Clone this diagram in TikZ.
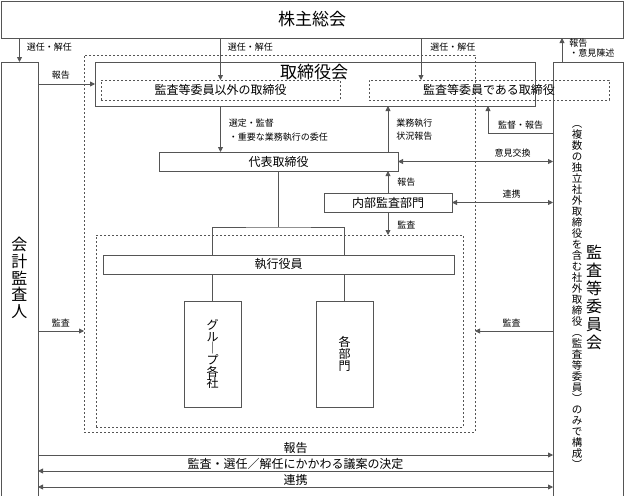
\documentclass[tikz,border=0pt]{standalone}
\usepackage{fontspec}
\setmainfont{Noto Sans CJK JP}
\usepackage{tikz}
\usetikzlibrary{arrows.meta}
\definecolor{linegray}{HTML}{555555}

\makeatletter
% vertical text, one character per line
\newcommand\tate[2]{\vbox{\baselineskip=#1\lineskiplimit=-\maxdimen
  \@tfor\tate@c:=#2\do{\hbox to 1em{\hss\tate@c\hss}}}}
\makeatother

\tikzset {
  % solid boxes
  box/.style = {draw=linegray, line width=0.8pt, inner sep=0pt, outer sep=0pt},
  % dashed groups of boxes
  dashbox/.style = {draw=linegray, line width=0.8pt, dash pattern=on 2pt off 2pt, inner sep=0pt, outer sep=0pt},
  % connectors
  conn/.style = {draw=linegray, line width=0.8pt},
  % small labels on the connectors
  lbl/.style = {font=\fontsize{9}{10}\selectfont, inner sep=0pt},
  bigtext/.style = {font=\fontsize{17}{18}\selectfont},
  midtext/.style = {font=\fontsize{12}{13}\selectfont},
}

\begin{document}
\begin{tikzpicture}[x=1pt, y=-1pt, >={Triangle[length=5pt, width=5pt]}]
  \useasboundingbox (0,0) rectangle (625,496);
  \clip (0,0) rectangle (625,496);

  \node[box, bigtext, minimum width=622pt, minimum height=37pt] (soukai) at (312,19.5) {株主総会};

  \node[box, minimum width=37pt, minimum height=440pt] (kaikei) at (19.5,282) {};
  \node[font=\fontsize{16}{16}\selectfont] (kaikeiName) at (19.5,278) {\tate{16.8pt}{会計監査人}};

  \node[box, minimum width=70pt, minimum height=440pt] (iinkai) at (588,282) {};
  \node[font=\fontsize{10.5}{11}\selectfont] (iinkaiNote) at (577,297) {\tate{11pt}{︵複数の独立社外取締役を含む社外取締役︵監査等委員︶のみで構成︶}};
  \node[font=\fontsize{16}{16}\selectfont] (iinkaiName) at (594,297) {\tate{18pt}{監査等委員会}};

  \node[dashbox, minimum width=391pt, minimum height=377pt] (region) at (279.5,243.5) {};

  \node[box, minimum width=440pt, minimum height=44pt] (torishimari) at (315,84) {};
  \node[bigtext] (torishimariName) at (314,72) {取締役会};
  \node[dashbox, midtext, minimum width=239pt, minimum height=20pt] (nonaudit) at (220.5,90) {監査等委員以外の取締役};
  \node[dashbox, midtext, minimum width=240pt, minimum height=20pt] (audit) at (489,90) {監査等委員である取締役};

  \node[box, midtext, minimum width=239pt, minimum height=19pt] (daihyo) at (278.5,161.5) {代表取締役};
  \node[box, midtext, minimum width=128pt, minimum height=19pt] (naibu) at (388,202.5) {内部監査部門};

  \node[dashbox, minimum width=367pt, minimum height=192pt] (inner) at (279.5,331) {};
  \node[box, midtext, minimum width=351pt, minimum height=19pt] (shikko) at (278.5,264.5) {執行役員};
  \node[box, midtext, minimum width=57pt, minimum height=106pt] (group) at (212.5,354) {\tate{11.7pt}{グル｜プ各社}};
  \node[box, midtext, minimum width=57pt, minimum height=106pt] (bumon) at (344.5,354) {\tate{12pt}{各部門}};

  \coordinate (x421) at (421,0);
  \coordinate (x562) at (562,0);
  \coordinate (kantoku) at (488,133);
  \coordinate (bar) at (278.5,227);
  \coordinate (b1) at (0,455);
  \coordinate (b2) at (0,471);
  \coordinate (b3) at (0,487);

  % election by the shareholders
  \draw[conn, ->] (soukai.south -| kaikei.north) -- node[lbl, right=7pt, pos=0.38] (l1) {選任・解任} (kaikei.north);
  \draw[conn, ->] (soukai.south -| nonaudit.north) -- node[lbl, right=7pt, pos=0.21] (l2) {選任・解任} (nonaudit.north);
  \draw[conn, ->] (soukai.south -| x421) -- node[lbl, right=9pt, pos=0.21] (l3) {選任・解任} (audit.north -| x421);
  \draw[conn, ->] (iinkai.north -| x562) -- node[lbl, right=7pt, pos=0.58, align=left] (l4) {報告\\・意見陳述} (soukai.south -| x562);

  \draw[conn, ->] (kaikei.east |- torishimari.west) -- node[lbl, above=4pt, pos=0.4] (l5) {報告} (torishimari.west);
  \draw[conn, ->] (torishimari.south -| nonaudit.south) -- node[lbl, right=8pt, pos=0.52, align=left, font=\fontsize{9}{13.5}\selectfont] (l6) {選定・監督\\・重要な業務執行の委任} (daihyo.north -| nonaudit.south);
  \draw[conn, ->] (daihyo.north -| naibu.north) -- node[lbl, right=8pt, pos=0.49, align=left, font=\fontsize{9}{13}\selectfont] (l7) {業務執行\\状況報告} (torishimari.south -| naibu.north);
  \draw[conn, ->] (iinkai.west |- kantoku) -- node[lbl, above=3pt] (l8) {監督・報告} (kantoku) -- (torishimari.south -| kantoku);
  \draw[conn, <->] (daihyo.east) -- node[lbl, above=4pt, pos=0.74] (l9) {意見交換} (daihyo.east -| iinkai.west);

  % internal audit
  \draw[conn, ->] (naibu.north) -- node[lbl, right=9pt] (l10) {報告} (daihyo.south -| naibu.north);
  \draw[conn, <->] (naibu.east) -- node[lbl, above=4pt, pos=0.59] (l11) {連携} (naibu.east -| iinkai.west);
  \draw[conn, ->] (naibu.south) -- node[lbl, right=9pt, pos=0.55] (l12) {監査} (inner.north -| naibu.south);

  % executive side
  \draw[conn] (daihyo.south) -- (daihyo.south |- bar);
  \draw[conn] (shikko.north -| group.north) |- (bar) -| (shikko.north -| bumon.north);
  \draw[conn] (shikko.south -| group.north) -- (group.north);
  \draw[conn] (shikko.south -| bumon.north) -- (bumon.north);

  \draw[conn, ->] (kaikei.east |- inner.center) -- node[lbl, above=4pt] (l15) {監査} (region.west |- inner.center);
  \draw[conn, ->] (iinkai.west |- inner.center) -- node[lbl, above=4pt, pos=0.53] (l16) {監査} (region.east |- inner.center);

  % auditor and committee
  \draw[conn, ->] (kaikei.east |- b1) -- node[midtext, inner sep=0pt, above=1pt] (l17) {報告} (iinkai.west |- b1);
  \draw[conn, <-] (kaikei.east |- b2) -- node[midtext, inner sep=0pt, above=1pt] (l18) {監査・選任／解任にかかわる議案の決定} (iinkai.west |- b2);
  \draw[conn, <->] (kaikei.east |- b3) -- node[midtext, inner sep=0pt, above=1pt] (l19) {連携} (iinkai.west |- b3);
\end{tikzpicture}
\end{document}
